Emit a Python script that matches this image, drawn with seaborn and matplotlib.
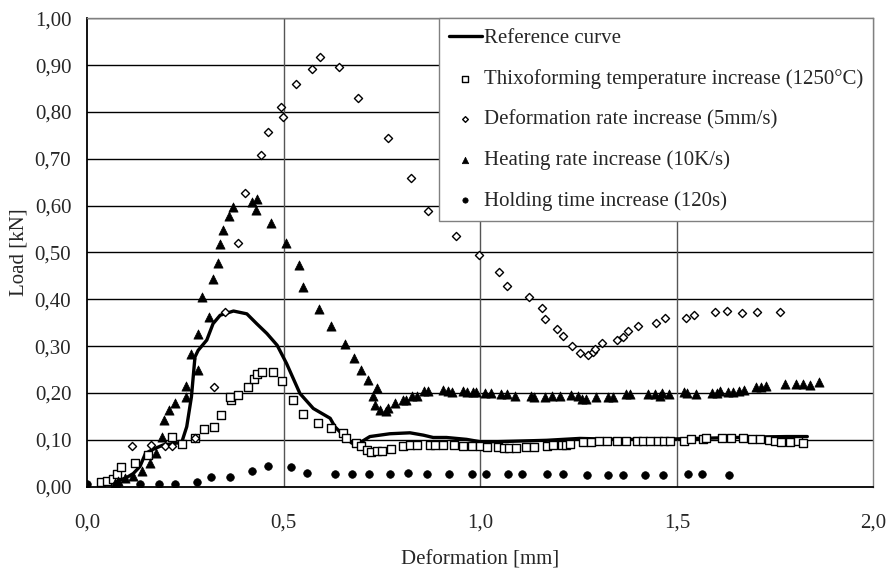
import numpy as np
import pandas as pd
import matplotlib
matplotlib.use("Agg")
import matplotlib.pyplot as plt
from matplotlib.ticker import FuncFormatter
import seaborn as sns

# reference curve (line)
ref_x = [0.03, 0.073, 0.097, 0.117, 0.134, 0.148, 0.168, 0.193, 0.227, 0.240, 0.253, 0.265,
         0.274, 0.282, 0.304, 0.320, 0.338, 0.372, 0.406, 0.431, 0.457, 0.483, 0.507, 0.541,
         0.575, 0.618, 0.630, 0.651, 0.673, 0.694, 0.719, 0.770, 0.821, 0.855, 0.880, 0.914,
         0.965, 0.999, 1.041, 1.084, 1.169, 1.253, 1.350, 1.450, 1.500, 1.600, 1.700, 1.780, 1.832]
ref_y = [0.010, 0.012, 0.018, 0.028, 0.043, 0.071, 0.080, 0.089, 0.093, 0.094, 0.128, 0.192,
         0.277, 0.291, 0.313, 0.348, 0.366, 0.375, 0.369, 0.348, 0.327, 0.302, 0.263, 0.199,
         0.167, 0.146, 0.128, 0.110, 0.093, 0.094, 0.107, 0.113, 0.115, 0.110, 0.105, 0.105,
         0.101, 0.096, 0.096, 0.097, 0.099, 0.103, 0.101, 0.101, 0.102, 0.104, 0.106, 0.107, 0.107]

# thixoforming temperature increase (open squares)
thixo_x = [0.035, 0.049, 0.065, 0.076, 0.086, 0.121, 0.154, 0.216, 0.240, 0.274, 0.298, 0.322,
           0.341, 0.365, 0.364, 0.383, 0.408, 0.423, 0.431, 0.445, 0.472, 0.495, 0.524, 0.548,
           0.588, 0.620, 0.651, 0.658, 0.684, 0.697, 0.711, 0.723, 0.736, 0.750, 0.773, 0.804,
           0.821, 0.839, 0.872, 0.885, 0.904, 0.933, 0.957, 0.980, 0.999, 1.018, 1.046, 1.060,
           1.074, 1.091, 1.116, 1.137, 1.169, 1.184, 1.207, 1.217, 1.228, 1.261, 1.282, 1.303,
           1.323, 1.347, 1.371, 1.398, 1.415, 1.432, 1.453, 1.468, 1.483, 1.517, 1.536, 1.567,
           1.574, 1.614, 1.639, 1.669, 1.690, 1.711, 1.735, 1.750, 1.764, 1.788, 1.809, 1.822]
thixo_y = [0.009, 0.012, 0.017, 0.027, 0.041, 0.050, 0.068, 0.105, 0.091, 0.103, 0.123, 0.127,
           0.152, 0.185, 0.192, 0.196, 0.213, 0.229, 0.240, 0.244, 0.245, 0.226, 0.184, 0.155,
           0.137, 0.126, 0.114, 0.103, 0.093, 0.086, 0.078, 0.075, 0.077, 0.077, 0.080, 0.086,
           0.088, 0.089, 0.088, 0.088, 0.088, 0.088, 0.087, 0.087, 0.086, 0.084, 0.084, 0.083,
           0.083, 0.083, 0.084, 0.084, 0.086, 0.088, 0.090, 0.090, 0.092, 0.095, 0.096, 0.097,
           0.098, 0.098, 0.098, 0.098, 0.097, 0.097, 0.097, 0.097, 0.097, 0.097, 0.102, 0.101,
           0.103, 0.103, 0.103, 0.104, 0.102, 0.102, 0.099, 0.098, 0.096, 0.095, 0.097, 0.094]

# deformation rate increase (open diamonds)
rate_x = [0.115, 0.161, 0.197, 0.215, 0.274, 0.322, 0.351, 0.383, 0.401, 0.441, 0.459, 0.494,
          0.499, 0.532, 0.573, 0.591, 0.641, 0.690, 0.765, 0.823, 0.866, 0.937, 0.996, 1.048,
          1.067, 1.125, 1.156, 1.165, 1.194, 1.211, 1.234, 1.254, 1.275, 1.286, 1.292, 1.310,
          1.349, 1.362, 1.377, 1.400, 1.446, 1.471, 1.523, 1.544, 1.596, 1.627, 1.667, 1.705, 1.763]
rate_y = [0.087, 0.088, 0.086, 0.086, 0.104, 0.213, 0.374, 0.520, 0.628, 0.709, 0.758, 0.811,
          0.789, 0.859, 0.892, 0.917, 0.896, 0.829, 0.744, 0.659, 0.589, 0.535, 0.495, 0.458,
          0.429, 0.404, 0.381, 0.357, 0.337, 0.322, 0.300, 0.285, 0.281, 0.288, 0.294, 0.306,
          0.313, 0.319, 0.333, 0.343, 0.349, 0.360, 0.361, 0.366, 0.372, 0.376, 0.370, 0.374, 0.374]

# heating rate increase (filled triangles)
heat_x = [0.070, 0.078, 0.096, 0.117, 0.138, 0.160, 0.176, 0.190, 0.195, 0.209, 0.223, 0.250,
          0.251, 0.264, 0.281, 0.281, 0.293, 0.310, 0.319, 0.333, 0.338, 0.346, 0.361, 0.372,
          0.420, 0.431, 0.429, 0.467, 0.505, 0.539, 0.550, 0.590, 0.620, 0.655, 0.679, 0.697,
          0.713, 0.736, 0.728, 0.732, 0.745, 0.761, 0.766, 0.783, 0.804, 0.812, 0.825, 0.840,
          0.857, 0.867, 0.906, 0.918, 0.927, 0.955, 0.965, 0.981, 0.988, 1.012, 1.027, 1.052,
          1.067, 1.087, 1.128, 1.137, 1.165, 1.182, 1.203, 1.231, 1.248, 1.258, 1.269, 1.294,
          1.326, 1.337, 1.371, 1.382, 1.426, 1.444, 1.457, 1.461, 1.479, 1.519, 1.525, 1.549,
          1.589, 1.601, 1.611, 1.631, 1.644, 1.657, 1.671, 1.701, 1.714, 1.728, 1.774, 1.803,
          1.820, 1.839, 1.861]
heat_y = [0.007, 0.012, 0.018, 0.023, 0.034, 0.050, 0.072, 0.107, 0.142, 0.164, 0.179, 0.192,
          0.215, 0.283, 0.249, 0.327, 0.404, 0.363, 0.443, 0.477, 0.518, 0.547, 0.578, 0.598,
          0.608, 0.614, 0.591, 0.564, 0.520, 0.473, 0.427, 0.379, 0.342, 0.305, 0.274, 0.249,
          0.228, 0.211, 0.194, 0.174, 0.164, 0.161, 0.168, 0.179, 0.184, 0.186, 0.194, 0.194,
          0.204, 0.204, 0.206, 0.205, 0.203, 0.205, 0.203, 0.202, 0.202, 0.200, 0.199, 0.198,
          0.197, 0.194, 0.193, 0.191, 0.192, 0.194, 0.194, 0.195, 0.193, 0.187, 0.188, 0.191,
          0.192, 0.192, 0.198, 0.197, 0.198, 0.198, 0.194, 0.199, 0.197, 0.202, 0.200, 0.198,
          0.199, 0.199, 0.204, 0.202, 0.203, 0.205, 0.207, 0.212, 0.213, 0.214, 0.219, 0.220,
          0.219, 0.217, 0.224]

# holding time increase (filled circles)
hold_x = [0.0, 0.076, 0.134, 0.183, 0.223, 0.278, 0.315, 0.363, 0.418, 0.461, 0.518, 0.560,
          0.630, 0.674, 0.718, 0.770, 0.817, 0.864, 0.921, 0.980, 1.014, 1.070, 1.107, 1.169,
          1.211, 1.272, 1.324, 1.364, 1.420, 1.466, 1.528, 1.565, 1.634]
hold_y = [0.006, 0.006, 0.006, 0.006, 0.006, 0.010, 0.020, 0.021, 0.033, 0.044, 0.042, 0.030,
          0.027, 0.027, 0.027, 0.028, 0.030, 0.028, 0.028, 0.028, 0.028, 0.027, 0.027, 0.026,
          0.026, 0.025, 0.025, 0.025, 0.025, 0.025, 0.026, 0.026, 0.025]

labels = ["Reference curve",
          "Thixoforming temperature increase (1250\u00b0C)",
          "Deformation rate increase (5mm/s)",
          "Heating rate increase (10K/s)",
          "Holding time increase (120s)"]

sns.set_style("white")
plt.rcParams['font.family'] = ['Liberation Serif', 'DejaVu Serif']
plt.rcParams['font.size'] = 15

fig, ax = plt.subplots(figsize=(8.88, 5.69), dpi=100)
fig.subplots_adjust(left=0.0983, right=0.9835, top=0.9678, bottom=0.1447)

# grid first so the data sits above
for yv in np.arange(0.1, 1.01, 0.1):
    ax.axhline(yv, color="black", lw=1.0, zorder=0)
for xv in [0.5, 1.0, 1.5]:
    ax.axvline(xv, color="#555555", lw=1.0, zorder=0)

ref = pd.DataFrame({"x": ref_x, "y": ref_y})
sns.lineplot(data=ref, x="x", y="y", ax=ax, color="black", lw=2.4, label=labels[0],
             sort=False, zorder=3)

sns.scatterplot(x=thixo_x, y=thixo_y, ax=ax, marker="s", s=28, facecolor="white",
                edgecolor="black", linewidth=1.0, label=labels[1], zorder=4)
sns.scatterplot(x=rate_x, y=rate_y, ax=ax, marker="D", s=17, facecolor="white",
                edgecolor="black", linewidth=1.0, label=labels[2], zorder=4)
sns.scatterplot(x=heat_x, y=heat_y, ax=ax, marker="^", s=44, color="black",
                edgecolor="black", linewidth=0.5, label=labels[3], zorder=4)
sns.scatterplot(x=hold_x, y=hold_y, ax=ax, marker="o", s=30, color="black",
                edgecolor="black", linewidth=0.5, label=labels[4], zorder=4)

ax.set_xlim(0, 2.0)
ax.set_ylim(0, 1.0)
ax.set_xticks([0, 0.5, 1.0, 1.5, 2.0])
ax.set_yticks(np.arange(0, 1.01, 0.1))
ax.xaxis.set_major_formatter(FuncFormatter(lambda v, p: f"{v:.1f}".replace(".", ",")))
ax.yaxis.set_major_formatter(FuncFormatter(lambda v, p: f"{v:.2f}".replace(".", ",")))
ax.tick_params(axis="y", direction="out", length=5.5, width=1.0, color="black",
               labelsize=15, pad=6)
ax.tick_params(axis="x", direction="out", length=7, width=1.0, color="black",
               labelsize=15, pad=12)

for s in ["left", "bottom"]:
    ax.spines[s].set_color("black")
    ax.spines[s].set_linewidth(1.3)
for s in ["top", "right"]:
    ax.spines[s].set_color("#808080")
    ax.spines[s].set_linewidth(1.0)

ax.set_xlabel("Deformation [mm]", fontsize=15, labelpad=13)
ax.set_ylabel("Load [kN]", fontsize=15, labelpad=4.5)

leg = ax.legend(loc="upper right", bbox_to_anchor=(1.0, 1.0), borderaxespad=0,
                frameon=True, fancybox=False, framealpha=1, edgecolor="#808080",
                fontsize=15, handlelength=1.55, handletextpad=0.1, labelspacing=1.0,
                borderpad=0.5, markerscale=0.7)
leg.get_frame().set_linewidth(1.0)
leg.set_zorder(10)

plt.savefig("out.png", dpi=100)
